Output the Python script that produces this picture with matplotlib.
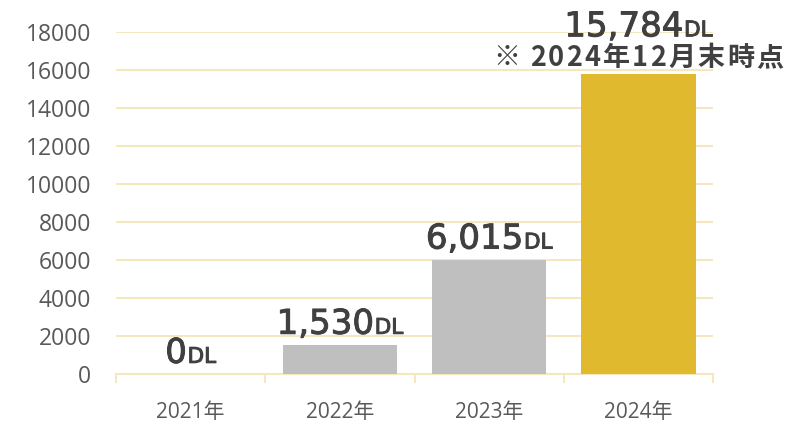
import matplotlib
matplotlib.use("Agg")
import matplotlib.pyplot as plt
import matplotlib.patheffects as pe
from matplotlib.offsetbox import TextArea, HPacker, VPacker, AnnotationBbox, DrawingArea

# data
years = ["2021年", "2022年", "2023年", "2024年"]
downloads = [0, 1530, 6015, 15784]
value_labels = ["0", "1,530", "6,015", "15,784"]
note = "※ 2024年12月末時点"

bar_colors = ["#BFBFBF", "#BFBFBF", "#BFBFBF", "#E0B92F"]
grid_color = "#F5E8BE"
label_color = "#404040"
tick_color = "#595959"
jp_font = ["Noto Sans CJK JP", "DejaVu Sans"]
thick = [pe.withStroke(linewidth=0.7, foreground=label_color)]


def spaced(text, size, sep):
    # note drawn char by char so the letters get a bit of tracking
    parts = []
    for ch in text:
        if ch == " ":
            parts.append(DrawingArea(size * 0.2, 0))
        else:
            parts.append(TextArea(ch, textprops=dict(family=jp_font, fontsize=size,
                                                     fontweight="bold", color=label_color)))
    return HPacker(children=parts, align="baseline", pad=0, sep=sep)


fig = plt.figure(figsize=(8.09, 4.25), dpi=100)
ax = fig.add_axes([0.1434, 0.12, 0.738, 0.8047])

x = list(range(len(years)))
ax.bar(x, downloads, width=0.765, color=bar_colors, zorder=3)

ax.set_xlim(-0.5, len(years) - 0.5)
ax.set_ylim(0, 18000)
ax.set_yticks(range(0, 18001, 2000))
ax.yaxis.grid(True, color=grid_color, linewidth=1.5, zorder=0)

for s in ["top", "right", "left"]:
    ax.spines[s].set_visible(False)
ax.spines["bottom"].set_color(grid_color)
ax.spines["bottom"].set_linewidth(1.5)

ax.set_xticks(x)
ax.set_xticklabels(years, family=["Open Sans", "Noto Sans CJK JP"], fontsize=15, color=tick_color)
ax.set_xticks([i - 0.5 for i in range(len(years) + 1)], minor=True)
ax.tick_params(axis="x", which="major", length=0, pad=20)
ax.tick_params(axis="x", which="minor", length=6.5, width=1.5, color=grid_color)
ax.tick_params(axis="y", length=0, pad=18, labelsize=16.5, labelcolor=tick_color)
for t in ax.get_yticklabels():
    t.set_family("Open Sans")

# value labels: big number + small "DL"
for i, (v, lab) in enumerate(zip(downloads, value_labels)):
    num = TextArea(lab, textprops=dict(family="DejaVu Sans", fontsize=24.5, color=label_color,
                                       path_effects=thick))
    dl = TextArea("DL", textprops=dict(family="DejaVu Sans", fontsize=15.5, color=label_color,
                                       path_effects=thick))
    row = HPacker(children=[num, dl], align="baseline", pad=0, sep=0.5)
    if i == len(downloads) - 1:
        nt = spaced(note, 19.5, 1.6)
        box = VPacker(children=[row, nt], align="center", pad=0, sep=0.5)
        offset = 1.5
    else:
        box = row
        offset = 3.0
    ab = AnnotationBbox(box, (i, v), xybox=(0, offset), xycoords="data",
                        boxcoords="offset points", box_alignment=(0.5, 0),
                        frameon=False, annotation_clip=False, zorder=5)
    ax.add_artist(ab)

fig.savefig("out.png", dpi=100)
